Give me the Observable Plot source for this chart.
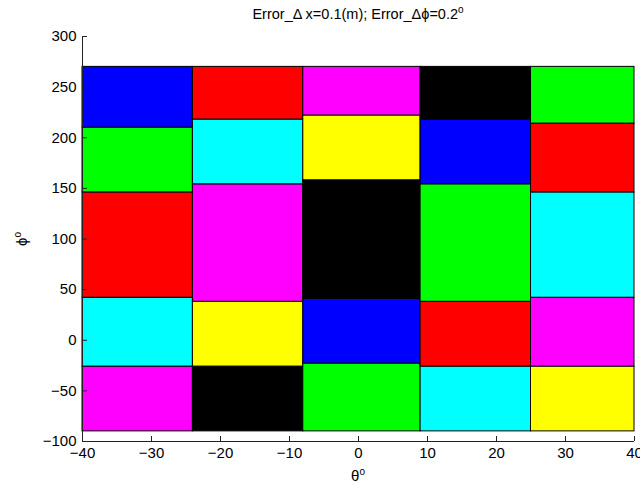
<!DOCTYPE html>
<html><head><meta charset="utf-8">
<script src="https://cdn.jsdelivr.net/npm/d3@7"></script>
<script src="https://cdn.jsdelivr.net/npm/@observablehq/plot@0.6"></script>
<style>
body{margin:0;background:#fff;}
#chart{position:relative;width:640px;height:487px;}
</style></head><body><div id="chart"></div>
<script>
// Column extents in theta (degrees)
const colLeft  = [-40, -24, -8, 9, 25];
const colRight = [-24, -8, 9, 25, 40];
// Row boundaries in phi (degrees), bottom to top, one list per column
const col1Edges = [-90, -26, 42, 146, 210, 270];
const col2Edges = [-90, -26, 38, 154, 218, 270];
const col3Edges = [-90, -23, 41, 158, 222, 270];
const col4Edges = [-90, -26, 38, 154, 218, 270];
const col5Edges = [-90, -26, 42, 146, 214, 270];
// Cell colours, bottom to top
const col1Colors = ["magenta", "cyan", "red", "lime", "blue"];
const col2Colors = ["black", "yellow", "magenta", "cyan", "red"];
const col3Colors = ["lime", "blue", "black", "yellow", "magenta"];
const col4Colors = ["cyan", "red", "lime", "blue", "black"];
const col5Colors = ["yellow", "magenta", "cyan", "red", "lime"];
const xTicks = [-40, -30, -20, -10, 0, 10, 20, 30, 40];
const yTicks = [-100, -50, 0, 50, 100, 150, 200, 250, 300];

const allEdges = [col1Edges, col2Edges, col3Edges, col4Edges, col5Edges];
const allColors = [col1Colors, col2Colors, col3Colors, col4Colors, col5Colors];
const cells = [];
colLeft.forEach((x1, i) => {
  for (let j = 0; j < allColors[i].length; j++) {
    cells.push({x1, x2: colRight[i], y1: allEdges[i][j], y2: allEdges[i][j + 1], c: allColors[i][j]});
  }
});

const font = '"Liberation Sans", Arial, sans-serif';
const svg = Plot.plot({
  width: 640, height: 487,
  marginLeft: 82, marginRight: 6, marginTop: 36, marginBottom: 46,
  x: {domain: [-40, 40]},
  y: {domain: [-100, 300]},
  color: {type: "identity"},
  style: {fontFamily: font, fontSize: "15px", background: "white", color: "black"},
  marks: [
    Plot.rect(cells, {x1: "x1", x2: "x2", y1: "y1", y2: "y2", fill: "c", stroke: "black", strokeWidth: 1}),
    Plot.ruleX([-40], {stroke: "#222"}),
    Plot.ruleY([-100], {stroke: "#222"}),
    Plot.axisX({ticks: xTicks, tickSize: -5, tickPadding: 11, label: null, stroke: "#222"}),
    Plot.axisY({ticks: yTicks, tickSize: -5, tickPadding: 11, label: null, stroke: "#222"})
  ]
});
document.getElementById("chart").appendChild(svg);

const s = d3.select(svg);
// Title
const t = s.append("text").attr("x", 358).attr("y", 19).attr("text-anchor", "middle")
  .attr("font-family", font).attr("font-size", 14.5).attr("fill", "black");
t.append("tspan").text("Error_\u0394 x=0.1(m); Error_\u0394\u03d5=0.2");
t.append("tspan").attr("dy", -6).attr("font-size", 10).text("o");
// X label
const xl = s.append("text").attr("x", 358).attr("y", 481).attr("text-anchor", "middle")
  .attr("font-family", font).attr("font-size", 15).attr("fill", "black");
xl.append("tspan").text("\u03b8");
xl.append("tspan").attr("dy", -6).attr("font-size", 10).text("o");
// Y label
const yl = s.append("text").attr("transform", "translate(27,239) rotate(-90)").attr("text-anchor", "middle")
  .attr("font-family", font).attr("font-size", 15).attr("fill", "black");
yl.append("tspan").text("\u03d5");
yl.append("tspan").attr("dy", -6).attr("font-size", 10).text("o");
</script></body></html>
